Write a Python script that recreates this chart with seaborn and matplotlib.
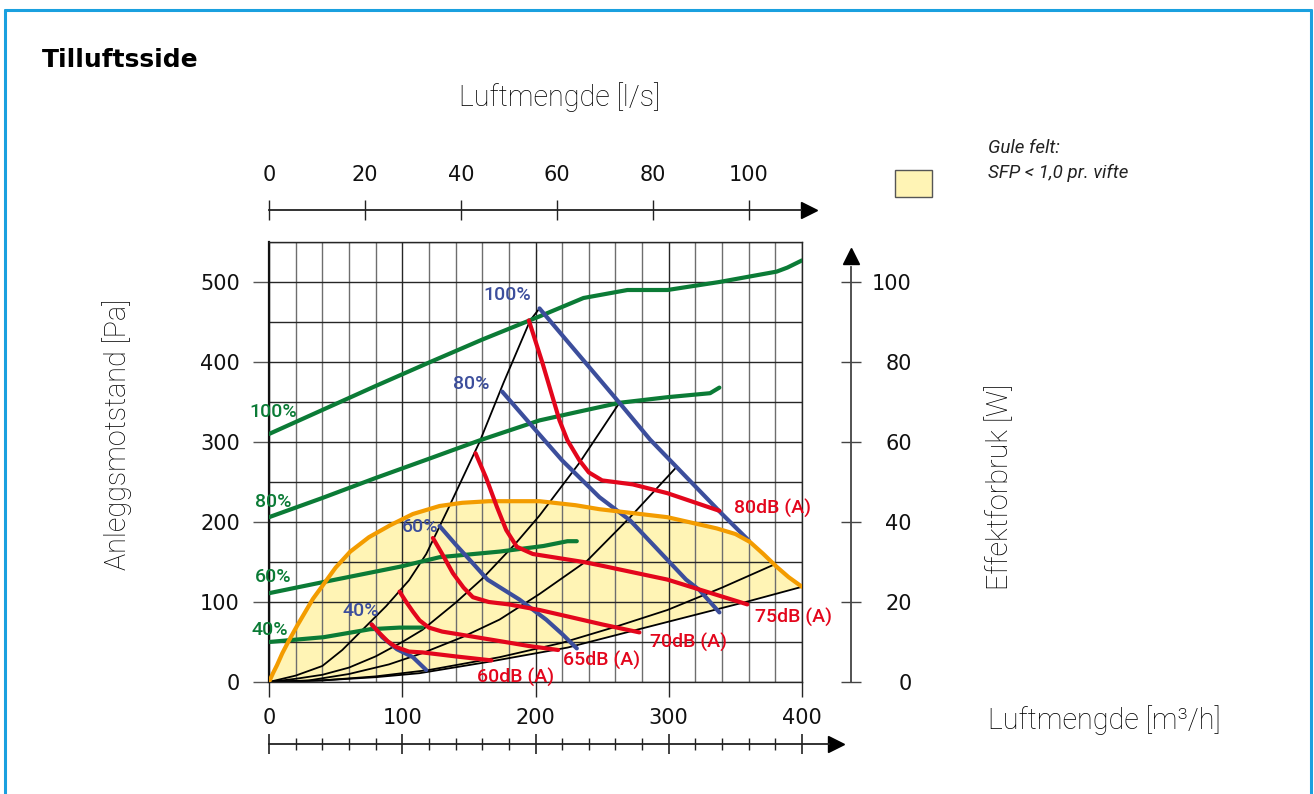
import numpy as np
import pandas as pd
import matplotlib
matplotlib.use("Agg")
import matplotlib.pyplot as plt
import seaborn as sns
from matplotlib.lines import Line2D
from matplotlib.patches import Rectangle

# ---------------- data ----------------
flow_ticks = [0, 100, 200, 300, 400]          # m3/h
flow_minor = list(range(0, 401, 20))
pa_ticks = [0, 100, 200, 300, 400, 500]       # Pa
pa_minor = list(range(0, 551, 50))
ls_ticks = [0, 20, 40, 60, 80, 100]           # l/s
w_ticks = [0, 20, 40, 60, 80, 100]            # W

# fan curves (green) – pressure vs flow at fan speed
green100_x = [0, 40, 80, 121, 160, 203, 236, 269, 299, 338, 381, 389, 400]
green100_y = [310, 340, 370, 400, 428, 457, 480, 490, 490, 500, 513, 518, 527]
green80_x = [0, 40, 80, 120, 158, 203, 230, 263, 299, 331, 338]
green80_y = [206, 230, 255, 279, 302, 327, 337, 349, 356, 361, 368]
green60_x = [0, 41, 98, 128, 173, 206, 224, 231]
green60_y = [111, 125, 144, 156, 163, 170, 176, 176]
green40_x = [0, 41, 76, 98, 115]
green40_y = [50, 56, 66, 68, 68]

# power curves (blue)
blue100_x = [203, 233, 263, 286, 315, 340, 360]
blue100_y = [467, 408, 349, 303, 253, 210, 177]
blue80_x = [175, 200, 220, 248, 271, 292, 313, 323, 338]
blue80_y = [363, 315, 277, 231, 202, 165, 128, 115, 87]
blue60_x = [128, 140, 151, 164, 188, 208, 220, 231]
blue60_y = [195, 172, 152, 128, 103, 78, 60, 42]
blue40_x = [77, 85, 96, 108, 118]
blue40_y = [72, 56, 41, 31, 15]

# sound curves (red)
red80_x = [195, 205, 218, 224, 233, 240, 250, 273, 299, 338]
red80_y = [452, 400, 327, 302, 277, 262, 252, 247, 236, 214]
red75_x = [155, 163, 171, 178, 186, 198, 236, 248, 299, 359]
red75_y = [286, 255, 219, 190, 169, 160, 150, 146, 128, 97]
red70_x = [123, 130, 138, 146, 153, 165, 180, 203, 224, 250, 278]
red70_y = [180, 160, 136, 118, 106, 100, 97, 90, 82, 72, 62]
red65_x = [98, 103, 108, 113, 120, 130, 141, 170, 195, 217]
red65_y = [113, 100, 88, 77, 68, 63, 60, 52, 45, 40]
red60_x = [77, 83, 89, 95, 105, 115, 140, 167]
red60_y = [72, 61, 51, 44, 38, 37, 32, 27]

# system curves (black)
sys1_x = [0, 20, 40, 55, 70, 88, 105, 118, 134, 158, 176, 196, 203]
sys1_y = [0, 8, 20, 40, 65, 95, 127, 160, 215, 300, 374, 452, 467]
sys2_x = [0, 20, 40, 60, 80, 100, 115, 140, 160, 185, 203, 233, 263]
sys2_y = [0, 4, 9, 18, 32, 50, 65, 99, 129, 173, 208, 274, 349]
sys3_x = [0, 30, 60, 90, 115, 145, 173, 203, 239, 271, 306]
sys3_y = [0, 2, 10, 22, 36, 56, 78, 110, 152, 206, 269]
sys4_x = [0, 40, 80, 120, 173, 220, 260, 299, 340, 378]
sys4_y = [0, 2, 7, 15, 31, 49, 69, 90, 118, 146]
sys5_x = [0, 40, 80, 113, 164, 224, 273, 320, 360, 400]
sys5_y = [0, 2, 6, 11, 25, 43, 64, 84, 101, 119]

# SFP boundary (orange)
sfp_x = [0, 3, 6, 10, 15, 21, 27, 33, 40, 50, 61, 75, 91, 108, 128, 145, 165, 203, 230,
         248, 299, 336, 350, 361, 371, 381, 390, 400]
sfp_y = [0, 11, 21, 36, 52, 70, 87, 104, 120, 143, 163, 181, 196, 210, 220, 224, 226, 226,
         221, 216, 206, 192, 185, 175, 160, 144, 131, 119]

green_labels = ["100%", "80%", "60%", "40%"]
blue_labels = ["100%", "80%", "60%", "40%"]
red_labels = ["80dB (A)", "75dB (A)", "70dB (A)", "65dB (A)", "60dB (A)"]

# ---------------- style ----------------
sns.set_theme(style="white")
plt.rcParams['font.family'] = ['DejaVu Sans']

W, H = 1314, 794
fig = plt.figure(figsize=(W / 100, H / 100), dpi=100)
fig.patch.set_facecolor('white')

GREEN = '#0b7b36'
BLUE = '#3c4e9c'
RED = '#e3061c'
ORANGE = '#f39c00'
YELLOW = '#fff4b5'
GRID_DARK = '#262626'
GRID_LIGHT = '#6e6e6e'

ax = fig.add_axes([269 / W, 112 / H, 533 / W, 440 / H])
ax.set_xlim(0, 400)
ax.set_ylim(0, 550)
ax.set_facecolor('white')
ax.set_axisbelow('line')

# grid
ax.set_xticks(flow_ticks)
ax.set_xticks(flow_minor, minor=True)
ax.set_yticks(pa_ticks)
ax.set_yticks(pa_minor, minor=True)
ax.grid(which='minor', axis='x', color=GRID_LIGHT, lw=1.0)
ax.grid(which='major', axis='x', color=GRID_DARK, lw=1.0)
ax.grid(which='both', axis='y', color=GRID_DARK, lw=1.0)
ax.tick_params(axis='x', which='major', direction='out', length=10.8, width=1.0,
               color=GRID_DARK, pad=8, labelsize=15, labelcolor='#111',
               bottom=True, top=False)
ax.tick_params(axis='y', which='major', direction='out', length=11.5, width=1.0,
               color='#555', pad=9.5, labelsize=15, labelcolor='#111',
               left=True, right=False)
ax.tick_params(which='minor', length=0)
for s in ax.spines.values():
    s.set_color(GRID_DARK)
    s.set_linewidth(1.0)
ax.spines['left'].set_linewidth(1.6)
ax.spines['left'].set_color('#111')

# yellow SFP area
poly_x = sfp_x + sys5_x[::-1]
poly_y = sfp_y + sys5_y[::-1]
ax.fill(poly_x, poly_y, color=YELLOW, zorder=1, lw=0)

def draw(xs, ys, color, lw, z):
    sns.lineplot(x=xs, y=ys, ax=ax, color=color, linewidth=lw, sort=False,
                 estimator=None, zorder=z, legend=False,
                 solid_capstyle='round', solid_joinstyle='round')

for xs, ys in [(sys1_x, sys1_y), (sys2_x, sys2_y), (sys3_x, sys3_y),
               (sys4_x, sys4_y), (sys5_x, sys5_y)]:
    draw(xs, ys, '#000000', 1.3, 2)
for xs, ys in [(green100_x, green100_y), (green80_x, green80_y),
               (green60_x, green60_y), (green40_x, green40_y)]:
    draw(xs, ys, GREEN, 3.0, 3)
for xs, ys in [(blue100_x, blue100_y), (blue80_x, blue80_y),
               (blue60_x, blue60_y), (blue40_x, blue40_y)]:
    draw(xs, ys, BLUE, 3.0, 4)
draw(sfp_x, sfp_y, ORANGE, 3.0, 5)
for xs, ys in [(red80_x, red80_y), (red75_x, red75_y), (red70_x, red70_y),
               (red65_x, red65_y), (red60_x, red60_y)]:
    draw(xs, ys, RED, 3.0, 6)

# curve labels
lab_kw = dict(fontsize=14, family=['Roboto', 'DejaVu Sans'], weight='medium',
              ha='left', va='center', clip_on=False, zorder=7)
for t, (x, y) in zip(green_labels, [(-15, 337), (-10.5, 225), (-10.5, 131), (-13, 65)]):
    ax.text(x, y, t, color=GREEN, **lab_kw)
for t, (x, y) in zip(blue_labels, [(161, 484), (138, 372), (100, 194), (55, 89)]):
    ax.text(x, y, t, color=BLUE, **lab_kw)
for t, (x, y) in zip(red_labels, [(349, 217), (365, 81), (286, 50), (221, 27), (156, 6)]):
    ax.text(x, y, t, color=RED, **lab_kw)

# ---------------- top arrow axis (l/s) ----------------
px_per_ls = 533 / 400 * 3.6
axT = fig.add_axes([269 / W, (H - 210) / H, 560 / W, 0.0001])
axT.set_xlim(0, 560 / px_per_ls)
axT.set_ylim(0, 1)
for k, s in axT.spines.items():
    s.set_visible(k == 'bottom')
axT.spines['bottom'].set_bounds(0, 111)
axT.spines['bottom'].set_color('#222')
axT.spines['bottom'].set_linewidth(1.3)
axT.set_xticks(ls_ticks)
axT.set_yticks([])
axT.tick_params(axis='x', direction='inout', length=14.4, width=1.0, color='#222',
                bottom=True, top=False, labelbottom=False, labeltop=True,
                labelsize=15, pad=11, labelcolor='#111')
axT.plot([112.6], [0], marker='>', color='black', markersize=11, clip_on=False)
axT.patch.set_visible(False)

# ---------------- bottom arrow axis (m3/h) ----------------
px_per_m3 = 533 / 400
axB = fig.add_axes([269 / W, (H - 744) / H, 590 / W, 0.0001])
axB.set_xlim(0, 590 / px_per_m3)
axB.set_ylim(0, 1)
for k, s in axB.spines.items():
    s.set_visible(k == 'bottom')
axB.spines['bottom'].set_bounds(0, 420)
axB.spines['bottom'].set_color('#222')
axB.spines['bottom'].set_linewidth(1.3)
axB.set_xticks(flow_ticks)
axB.set_xticks(flow_minor, minor=True)
axB.set_yticks([])
axB.tick_params(axis='x', which='major', direction='inout', length=14.4, width=1.2,
                color='#222', labelbottom=False, bottom=True, top=False)
axB.tick_params(axis='x', which='minor', direction='inout', length=8, width=1.0,
                color='#222', bottom=True, top=False)
axB.plot([425.5], [0], marker='>', color='black', markersize=11, clip_on=False)
axB.patch.set_visible(False)

# ---------------- right arrow axis (W) ----------------
axR = fig.add_axes([851 / W, 112 / H, 0.0001, 440 / H])
axR.set_ylim(0, 110)
axR.set_xlim(0, 1)
for k, s in axR.spines.items():
    s.set_visible(k == 'left')
axR.spines['left'].set_bounds(0, 103.75)
axR.spines['left'].set_color('#444')
axR.spines['left'].set_linewidth(1.3)
axR.set_yticks(w_ticks)
axR.set_xticks([])
axR.tick_params(axis='y', direction='inout', length=14.4, width=1.0, color='#444',
                left=True, right=False, labelleft=False, labelright=True,
                labelsize=15, pad=36.5, labelcolor='#111')
plt.setp(axR.get_yticklabels(), ha='right')
axR.plot([0], [106.6], marker='^', color='black', markersize=12, clip_on=False)
axR.patch.set_visible(False)

# ---------------- texts ----------------
title_font = dict(family=['Roboto', 'DejaVu Sans'], weight='light', color='black')
fig.text(42 / W, 1 - 60 / H, "Tilluftsside", fontsize=18, weight='bold',
         ha='left', va='center', color='black')
fig.text(560 / W, 1 - 97 / H, "Luftmengde [l/s]", fontsize=20.7, ha='center', va='center',
         **title_font)
fig.text(117 / W, 1 - 434 / H, "Anleggsmotstand [Pa]", fontsize=20.7, rotation=90,
         ha='center', va='center', **title_font)
fig.text(1000 / W, 1 - 487 / H, "Effektforbruk [W]", fontsize=20.7, rotation=90,
         ha='center', va='center', **title_font)
fig.text(988 / W, 1 - 720 / H, "Luftmengde [m³/h]", fontsize=20.7, ha='left', va='center',
         **title_font)

# legend for the yellow area
fig.add_artist(Rectangle((895 / W, 1 - 197 / H), 37 / W, 27 / H, transform=fig.transFigure,
                         facecolor=YELLOW, edgecolor='#555', lw=1.0))
leg_font = dict(family=['Roboto', 'DejaVu Sans'], weight='normal', style='italic',
                fontsize=13.5, color='#222', ha='left', va='center')
fig.text(988 / W, 1 - 148 / H, "Gule felt:", **leg_font)
fig.text(988 / W, 1 - 173 / H, "SFP < 1,0 pr. vifte", **leg_font)

# blue frame
BORDER = '#1aa0df'
fig.add_artist(Line2D([5 / W, 1311 / W], [1 - 10 / H, 1 - 10 / H], color=BORDER, lw=2.2,
                      transform=fig.transFigure))
fig.add_artist(Line2D([5 / W, 5 / W], [0, 1 - 10 / H], color=BORDER, lw=2.2,
                      transform=fig.transFigure))
fig.add_artist(Line2D([1311 / W, 1311 / W], [0, 1 - 10 / H], color=BORDER, lw=2.2,
                      transform=fig.transFigure))

fig.savefig('out.png', dpi=100, facecolor='white')
